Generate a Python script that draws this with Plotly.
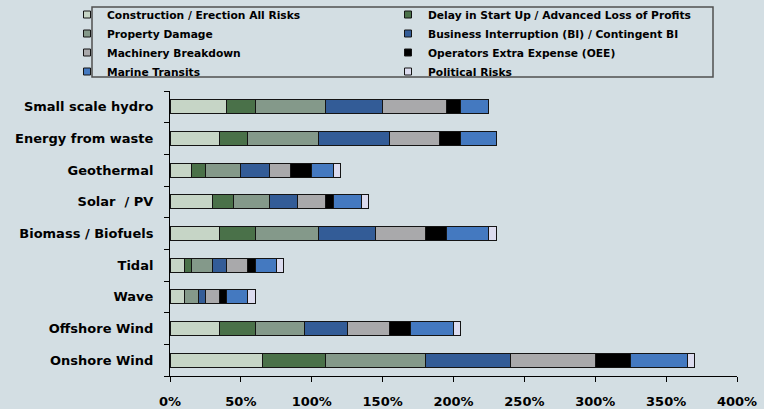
import plotly.graph_objects as go

# Technologies, bottom to top on the category axis
technologies = [
    "Onshore Wind", "Offshore Wind", "Wave", "Tidal", "Biomass / Biofuels",
    "Solar  / PV", "Geothermal", "Energy from waste", "Small scale hydro",
]

# Premium rate contribution (%) of each cover, same order as technologies
construction = [65, 35, 10, 10, 35, 30, 15, 35, 40]
delay_start_up = [45, 25, 0, 5, 25, 15, 10, 20, 20]
property_damage = [70, 35, 10, 15, 45, 25, 25, 50, 50]
business_interruption = [60, 30, 5, 10, 40, 20, 20, 50, 40]
machinery_breakdown = [60, 30, 10, 15, 35, 20, 15, 35, 45]
operators_extra = [25, 15, 5, 5, 15, 5, 15, 15, 10]
marine_transits = [40, 30, 15, 15, 30, 20, 15, 25, 20]
political_risks = [5, 5, 5, 5, 5, 5, 5, 0, 0]

series_names = [
    "Construction / Erection All Risks",
    "Delay in Start Up / Advanced Loss of Profits",
    "Property Damage",
    "Business Interruption (BI) / Contingent BI",
    "Machinery Breakdown",
    "Operators Extra Expense (OEE)",
    "Marine Transits",
    "Political Risks",
]
series_values = [
    construction, delay_start_up, property_damage, business_interruption,
    machinery_breakdown, operators_extra, marine_transits, political_risks,
]
series_colors = [
    "#C6D5C6", "#4A7149", "#84998A", "#335C97",
    "#A9A9AB", "#000000", "#4479C0", "#DCDCEF",
]

x_ticks = [0, 50, 100, 150, 200, 250, 300, 350, 400]

BG = "#D3DEE3"

fig = go.Figure()

for name, vals, col in zip(series_names, series_values, series_colors):
    fig.add_trace(go.Bar(
        y=technologies, x=vals, orientation="h", name=name,
        marker=dict(color=col, line=dict(color="#141414", width=1)),
        showlegend=False,
    ))

# Legend keys with small square swatches
for name, col in zip(series_names, series_colors):
    fig.add_trace(go.Scatter(
        x=[None], y=[None], mode="markers", name=name,
        marker=dict(symbol="square", size=7, color=col,
                    line=dict(color="#141414", width=1)),
        showlegend=True,
    ))

fig.update_layout(
    width=764, height=409,
    barmode="stack",
    bargap=0.56,
    paper_bgcolor=BG, plot_bgcolor=BG,
    font=dict(family="DejaVu Sans", size=13, color="black", weight="bold"),
    margin=dict(l=170, r=27, t=91, b=33, autoexpand=False),
    showlegend=True,
    legend=dict(
        orientation="h",
        x=(76 - 170) / 567, xanchor="left",
        y=1 + 91 / 285, yanchor="top",
        entrywidth=285, entrywidthmode="pixels",
        indentation=-9,
        bgcolor="rgba(0,0,0,0)",
        font=dict(family="DejaVu Sans", size=10.7, color="black", weight="bold"),
        traceorder="normal",
    ),
    shapes=[dict(
        type="rect", xref="paper", yref="paper",
        x0=(92 - 170) / 567, x1=(713 - 170) / 567,
        y0=(376 - 77) / 285, y1=(376 - 7) / 285,
        line=dict(color="#505050", width=1.5),
        fillcolor="rgba(0,0,0,0)",
    )],
)

fig.update_xaxes(
    range=[0, 400], tickvals=x_ticks,
    ticktext=[f"{v}%" for v in x_ticks],
    showline=True, linecolor="black", linewidth=1,
    ticks="outside", ticklen=5, tickcolor="black", tickwidth=1,
    showgrid=False, zeroline=False,
    ticklabelstandoff=8,
    tickfont=dict(size=13),
)
fig.update_yaxes(
    type="category", categoryorder="array", categoryarray=technologies,
    tickson="boundaries",
    showline=True, linecolor="black", linewidth=1,
    ticks="outside", ticklen=5, tickcolor="black", tickwidth=1,
    showgrid=False, zeroline=False,
    ticklabelstandoff=13,
    tickfont=dict(size=13),
)

fig.write_html("out.html")
